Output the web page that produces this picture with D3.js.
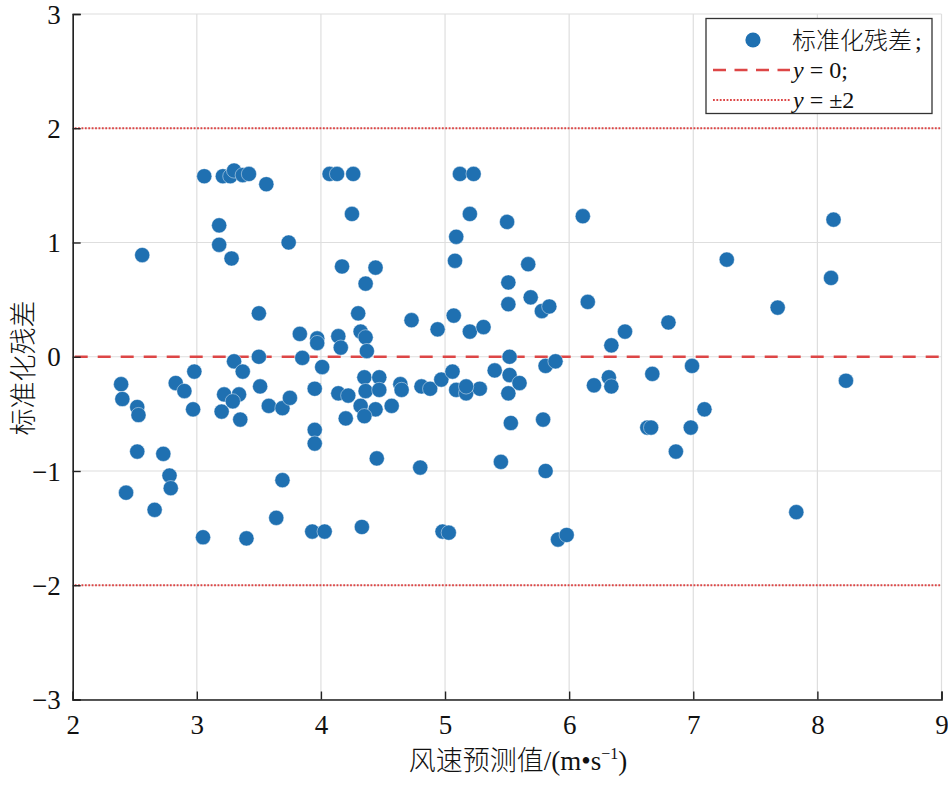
<!DOCTYPE html>
<html>
<head>
<meta charset="utf-8">
<script src="https://cdn.jsdelivr.net/npm/d3@7"></script>
<style>
  body { margin: 0; background: #fff; }
  svg { display: block; }
  .tick text { font-family: "Liberation Serif", "Times New Roman", serif; }
</style>
</head>
<body>
<svg id="chart" width="948" height="798"></svg>
<script>
// predicted wind speed (m/s)
const predicted = [
  3.06, 3.21, 3.27, 3.30, 3.37, 3.42, 3.56, 3.18, 3.18, 3.28,
  3.74, 2.56, 3.50, 3.83, 3.50, 3.85, 3.30, 3.37, 2.98, 2.39,
  2.83, 2.90, 3.51, 2.40, 2.52, 2.53, 2.97, 3.22, 3.34, 3.29,
  3.20, 3.35, 3.58, 3.69, 3.75, 2.52, 2.73, 2.78, 2.79, 2.43,
  2.66, 3.05, 3.40, 3.69, 3.64, 4.07, 4.13, 4.26, 4.25, 4.17,
  4.44, 4.36, 4.30, 4.73, 3.97, 3.97, 4.14, 4.16, 4.32, 4.36,
  4.37, 4.94, 5.07, 5.20, 5.31, 4.01, 3.95, 4.14, 4.22, 4.35,
  4.47, 4.36, 4.47, 4.32, 4.44, 4.35, 4.20, 4.57, 4.64, 4.65,
  4.81, 4.88, 4.97, 5.06, 5.09, 5.17, 5.28, 5.40, 3.95, 3.95,
  4.45, 4.80, 3.93, 4.03, 4.33, 4.98, 5.03, 5.12, 5.23, 5.20,
  5.50, 6.11, 5.09, 5.08, 5.67, 5.51, 5.51, 5.69, 5.78, 5.84,
  6.15, 6.34, 5.52, 5.52, 5.60, 5.51, 5.81, 5.89, 6.20, 6.32,
  6.34, 5.17, 5.53, 5.79, 5.45, 5.81, 5.91, 5.98, 8.13, 7.27,
  8.11, 7.68, 6.80, 6.45, 6.99, 6.67, 8.23, 7.09, 6.63, 6.66,
  6.98, 6.86, 7.83
];
// standardized residual
const residual = [
  1.58, 1.58, 1.58, 1.63, 1.59, 1.60, 1.51, 1.15, 0.98, 0.86,
  1.00, 0.89, 0.38, 0.20, 0.00, -0.01, -0.04, -0.13, -0.13, -0.24,
  -0.23, -0.30, -0.26, -0.37, -0.44, -0.51, -0.46, -0.33, -0.33, -0.39,
  -0.48, -0.55, -0.43, -0.45, -0.36, -0.83, -0.85, -1.04, -1.15, -1.19,
  -1.34, -1.58, -1.59, -1.08, -1.41, 1.60, 1.60, 1.60, 1.25, 0.79,
  0.78, 0.64, 0.38, 0.32, 0.16, 0.12, 0.18, 0.08, 0.22, 0.17,
  0.05, 0.24, 0.36, 0.22, 0.26, -0.09, -0.28, -0.32, -0.34, -0.18,
  -0.18, -0.30, -0.29, -0.43, -0.46, -0.52, -0.54, -0.43, -0.24, -0.29,
  -0.26, -0.28, -0.20, -0.13, -0.29, -0.32, -0.28, -0.12, -0.64, -0.76,
  -0.89, -0.97, -1.53, -1.53, -1.49, -1.53, -1.54, 1.60, 1.60, 1.25,
  1.18, 1.23, 1.05, 0.84, 0.81, 0.65, 0.46, 0.52, 0.40, 0.44,
  0.48, 0.10, 0.00, -0.16, -0.23, -0.32, -0.08, -0.04, -0.25, -0.18,
  -0.26, -0.26, -0.58, -0.55, -0.92, -1.00, -1.60, -1.56, 1.20, 0.85,
  0.69, 0.43, 0.30, 0.22, -0.08, -0.15, -0.21, -0.46, -0.62, -0.62,
  -0.62, -0.83, -1.36
];

const xTicks = [2, 3, 4, 5, 6, 7, 8, 9];
const yTicks = [-3, -2, -1, 0, 1, 2, 3];
const refZero = [0];
const refBand = [-2, 2];

const legendLabels = ['标准化残差;', 'y = 0;', 'y = ±2'];

const dotColor = '#1f70b1';
const refColor = '#dd4646';

const svg = d3.select('#chart');

const plotLeft = 72.7, plotRight = 941.5, plotTop = 14, plotBottom = 699.5;

const x = d3.scaleLinear().domain([2, 9]).range([plotLeft, plotRight]);
const y = d3.scaleLinear().domain([-3, 3]).range([plotBottom, plotTop]);

// grid
const grid = svg.append('g');
grid.selectAll('.gx').data(xTicks).enter().append('line')
  .attr('x1', d => x(d)).attr('x2', d => x(d))
  .attr('y1', plotTop).attr('y2', plotBottom)
  .style('stroke', '#dedede').style('stroke-width', 1.2);
grid.selectAll('.gy').data(yTicks).enter().append('line')
  .attr('x1', plotLeft).attr('x2', plotRight)
  .attr('y1', d => y(d)).attr('y2', d => y(d))
  .style('stroke', '#dedede').style('stroke-width', 1.2);

// reference lines
svg.selectAll('.zero').data(refZero).enter().append('line')
  .attr('x1', plotLeft + 2).attr('x2', plotRight)
  .attr('y1', d => y(d)).attr('y2', d => y(d))
  .style('stroke', refColor).style('stroke-width', 2.6)
  .style('stroke-dasharray', '13,10');

svg.selectAll('.band').data(refBand).enter().append('line')
  .attr('x1', plotLeft + 2).attr('x2', plotRight)
  .attr('y1', d => y(d)).attr('y2', d => y(d))
  .style('stroke', refColor).style('stroke-width', 2.2)
  .style('stroke-dasharray', '1.8,1.6');

// points
svg.append('g').selectAll('circle')
  .data(predicted.map((v, i) => [v, residual[i]]))
  .enter().append('circle')
  .attr('cx', d => x(d[0]))
  .attr('cy', d => y(d[1]))
  .attr('r', 7.6)
  .style('fill', dotColor)
  .style('stroke', '#ffffff')
  .style('stroke-opacity', 0.55)
  .style('stroke-width', 0.8);

// axes
const xAxis = svg.append('g')
  .attr('transform', 'translate(0,' + plotBottom + ')')
  .call(d3.axisBottom(x).tickValues(xTicks).tickSize(-8).tickPadding(20).tickFormat(d3.format('d')));
const yAxis = svg.append('g')
  .attr('transform', 'translate(' + plotLeft + ',0)')
  .call(d3.axisLeft(y).tickValues(yTicks).tickSize(-8).tickPadding(12).tickFormat(d => d < 0 ? '−' + Math.abs(d) : d));

[xAxis, yAxis].forEach(a => {
  a.select('.domain').style('stroke', '#222').style('stroke-width', 1.6);
  a.selectAll('.tick line').style('stroke', '#222').style('stroke-width', 1.4);
  a.selectAll('.tick text').style('font-size', '27px').style('fill', '#111');
});
xAxis.selectAll('.tick text').attr('dy', '0.52em');
yAxis.selectAll('.tick text').attr('dy', '0.34em');

// axis titles
svg.append('text')
  .attr('transform', 'translate(33,368) rotate(-90)')
  .attr('text-anchor', 'middle')
  .style('font-family', '"Noto Sans CJK SC", sans-serif')
  .style('font-weight', 300)
  .style('font-size', '27px')
  .style('fill', '#111')
  .text('标准化残差');

const xt = svg.append('text')
  .attr('x', 518).attr('y', 770)
  .attr('text-anchor', 'middle')
  .style('font-size', '27px')
  .style('fill', '#111');
xt.append('tspan')
  .style('font-family', '"Noto Sans CJK SC", sans-serif')
  .style('font-weight', 300)
  .text('风速预测值');
xt.append('tspan')
  .style('font-family', '"Liberation Serif", serif')
  .text('/(m•s');
xt.append('tspan')
  .style('font-family', '"Liberation Serif", serif')
  .style('font-size', '16px')
  .attr('dy', -11)
  .text('−1');
xt.append('tspan')
  .style('font-family', '"Liberation Serif", serif')
  .attr('dy', 11)
  .text(')');

// legend
const lg = svg.append('g');
lg.append('rect')
  .attr('x', 706).attr('y', 18.5).attr('width', 226).attr('height', 95)
  .style('fill', '#fff').style('stroke', '#333').style('stroke-width', 1.3);

const rowY = [40, 70, 100];
lg.append('circle')
  .attr('cx', 753).attr('cy', rowY[0]).attr('r', 7.6)
  .style('fill', dotColor);
lg.append('line')
  .attr('x1', 713).attr('x2', 790).attr('y1', rowY[1]).attr('y2', rowY[1])
  .style('stroke', refColor).style('stroke-width', 2.6)
  .style('stroke-dasharray', '13,8.5');
lg.append('line')
  .attr('x1', 713).attr('x2', 790).attr('y1', rowY[2]).attr('y2', rowY[2])
  .style('stroke', refColor).style('stroke-width', 2.2)
  .style('stroke-dasharray', '1.8,1.6');

lg.append('text')
  .attr('x', 792).attr('y', rowY[0] + 9)
  .style('font-size', '24px').style('fill', '#111')
  .call(t => {
    t.append('tspan').style('font-family', '"Noto Sans CJK SC", sans-serif').style('font-weight', 300).text('标准化残差');
    t.append('tspan').style('font-family', '"Liberation Serif", serif').attr('dx', 3).text(';');
  });

legendLabels.slice(1).forEach((lab, i) => {
  const t = lg.append('text')
    .attr('x', 793).attr('y', rowY[i + 1] + 8)
    .style('font-family', '"Liberation Serif", serif')
    .style('font-size', '24px').style('fill', '#111');
  t.append('tspan').style('font-style', 'italic').text(lab.slice(0, 1));
  t.append('tspan').text(lab.slice(1));
});
</script>
</body>
</html>
